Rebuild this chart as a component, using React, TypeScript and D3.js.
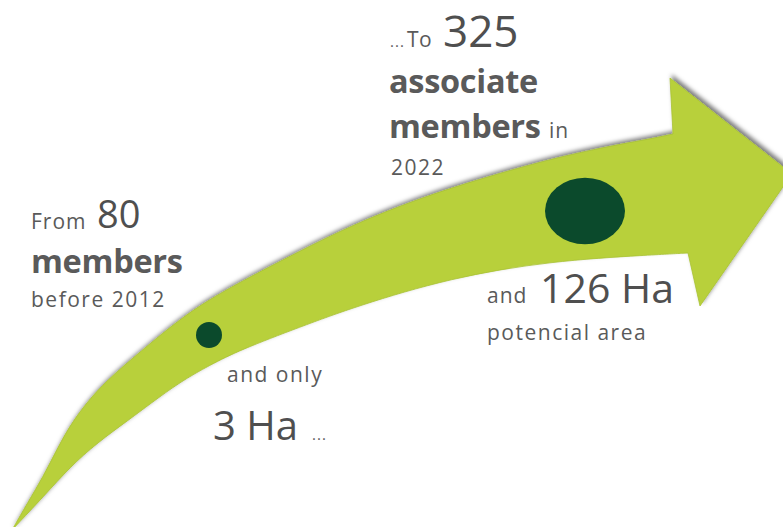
import React from "react";
import * as d3 from "d3";

const members = [80, 325];
const memberPrefix = ["From", "To"];
const years = ["before 2012", "2022"];
const areas = ["3 Ha", "126 Ha"];
const areaPrefix = ["and only", "and"];

// arrow outline (decorative geometry)
const upperEdge: [number, number][] = [
  [12, 530], [28, 502], [43, 477], [57, 449], [73, 420], [97, 390], [120, 369], [140, 352], [170, 327],
  [200, 305], [240, 282], [300, 251], [350, 226], [417, 199], [483, 178], [550, 159], [610, 146], [650, 139], [673, 134],
];
const headPts: [number, number][] = [[670, 78], [792, 174], [700, 306], [688, 253]];
const lowerEdge: [number, number][] = [
  [688, 253], [650, 255], [550, 261], [450, 278], [357, 306], [300, 327], [240, 350], [210, 365], [180, 382],
  [150, 404], [130, 419], [97, 443], [70, 467], [45, 495], [12, 530],
];

const W = 783;
const H = 527;
const TEXT = "#5a5a5a";
const NUM = "#4f4f4f";
const GREEN = "#b8d03b";
const DARK = "#0b4a2c";
const FONT = "'Open Sans', 'Noto Sans', sans-serif";

export default function App() {
  const line = d3.line().curve(d3.curveBasis);
  const upper = line(upperEdge) || "";
  const lower = line(lowerEdge) || "";
  const head = headPts.map((p) => `L${p[0]},${p[1]}`).join("");
  const arrowPath = upper + head + "L" + lower.slice(1) + "Z";

  const rScale = d3.scaleLinear().domain([members[0], members[1]]).range([13, 40]);
  const r0 = rScale(members[0]);
  const r1 = rScale(members[1]);

  const small = { fontSize: 21, letterSpacing: 1.5, fill: TEXT } as const;
  const bold = { fontSize: 32.5, fontWeight: 700, fill: TEXT, letterSpacing: -0.3 } as const;

  return (
    <svg width={W} height={H} style={{ position: "absolute", left: 0, top: 0, background: "#fff" }} fontFamily={FONT}>
      <defs>
        <filter id="sh" x="-10%" y="-10%" width="120%" height="120%">
          <feDropShadow dx="2" dy="-3" stdDeviation="2.3" floodColor="#000" floodOpacity="0.5" />
        </filter>
      </defs>
      <path d={arrowPath} fill={GREEN} stroke="#a8c235" strokeWidth={0.8} filter="url(#sh)" />
      <circle cx={209} cy={335} r={r0} fill={DARK} />
      <ellipse cx={585} cy={211} rx={r1} ry={r1 * 0.83} fill={DARK} />

      {/* left block */}
      <text x={31} y={229} {...small} letterSpacing={1}>{memberPrefix[0]}</text>
      <text x={97} y={228} fontSize={38} fill={NUM}>{members[0]}</text>
      <text x={31} y={273} {...bold}>members</text>
      <text x={31} y={307} {...small}>{years[0]}</text>

      {/* top block */}
      <text x={390} y={47} fontSize={15} fill={TEXT} letterSpacing={1}>...</text>
      <text x={407} y={47} {...small} letterSpacing={0.5}>{memberPrefix[1]}</text>
      <text x={443} y={47} fontSize={44} fill={NUM}>{members[1]}</text>
      <text x={389} y={93} {...bold}>associate</text>
      <text x={389} y={138} {...bold}>members</text>
      <text x={549} y={138} {...small} letterSpacing={1}>in</text>
      <text x={391} y={175} {...small}>{years[1]}</text>

      {/* right block */}
      <text x={487} y={303} {...small} letterSpacing={1}>{areaPrefix[1]}</text>
      <text x={540} y={303} fontSize={41} fill={NUM}>{areas[1]}</text>
      <text x={487} y={340} {...small}>potencial area</text>

      {/* bottom block */}
      <text x={227} y={382} {...small}>{areaPrefix[0]}</text>
      <text x={213} y={440} fontSize={40} fill={NUM}>{areas[0]}</text>
      <text x={312} y={440} fontSize={15} fill={TEXT} letterSpacing={1}>...</text>
    </svg>
  );
}
